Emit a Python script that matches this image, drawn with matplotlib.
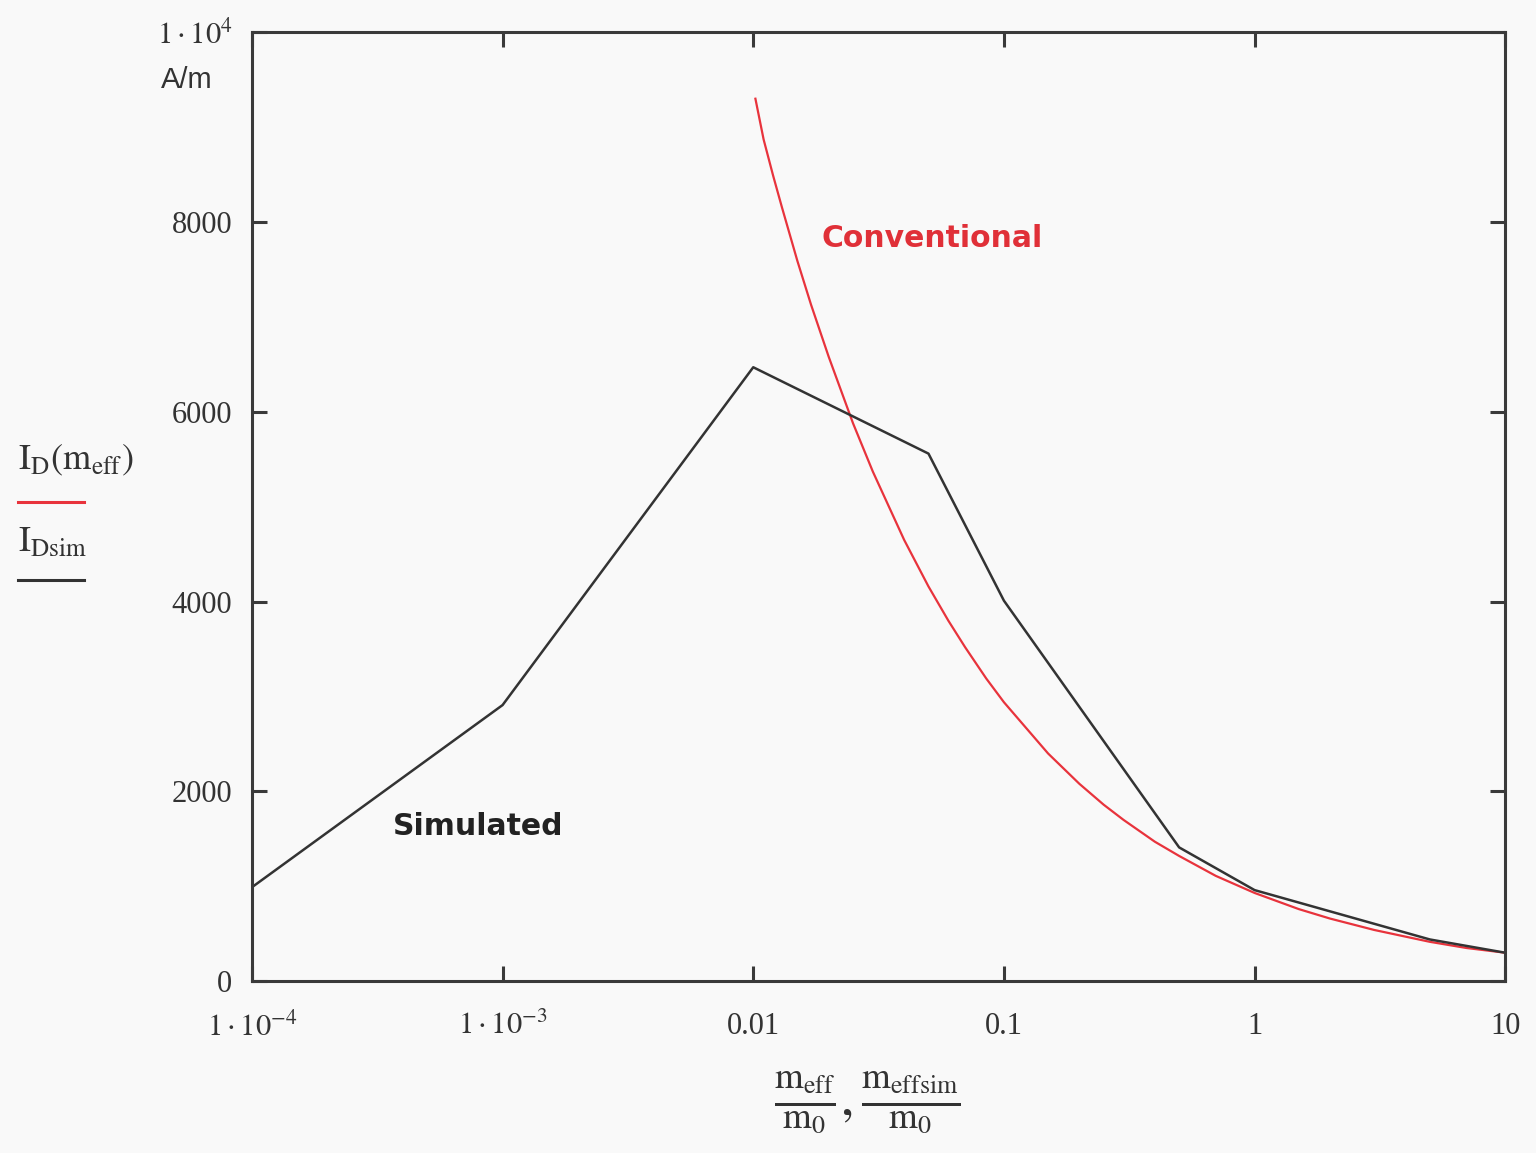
import matplotlib
matplotlib.use("Agg")
import matplotlib.pyplot as plt
from matplotlib.lines import Line2D
from matplotlib.ticker import FixedLocator, FixedFormatter
import matplotlib.transforms as mtransforms

plt.rcParams['font.family'] = ['Liberation Serif', 'DejaVu Serif']
plt.rcParams['mathtext.fontset'] = 'stix'

# effective mass ratio vs drain current, conventional model
m_conv = [0.0102, 0.011, 0.012, 0.013, 0.015, 0.017, 0.02, 0.025, 0.03,
          0.04, 0.05, 0.06, 0.07, 0.085, 0.1, 0.15, 0.2, 0.25, 0.3, 0.4,
          0.5, 0.7, 1.0, 1.5, 2.0, 3.0, 5.0, 7.0, 10.0]
I_conv = [9300, 8870, 8490, 8160, 7590, 7130, 6580, 5880, 5370,
          4650, 4160, 3800, 3520, 3190, 2940, 2400, 2080, 1860, 1700, 1470,
          1320, 1110, 930, 760, 660, 540, 415, 350, 300]

# simulated points
m_sim = [1e-4, 1e-3, 0.01, 0.05, 0.1, 0.5, 1.0, 5.0, 10.0]
I_sim = [990, 2910, 6470, 5560, 4010, 1410, 960, 440, 300]

x_ticks = [1e-4, 1e-3, 0.01, 0.1, 1, 10]
x_labels = [r'$1\cdot10^{-4}$', r'$1\cdot10^{-3}$', '0.01', '0.1', '1', '10']
y_ticks = [0, 2000, 4000, 6000, 8000, 10000]
y_labels = ['0', '2000', '4000', '6000', '8000', r'$1\cdot10^{4}$']

bg = '#f9f9f9'
fig = plt.figure(figsize=(15.36, 11.53), dpi=100, facecolor=bg)
ax = fig.add_axes([0.164, 0.149, 0.816, 0.823], facecolor=bg)

ax.plot(m_conv, I_conv, color='#e8333c', lw=1.6)
ax.plot(m_sim, I_sim, color='#333333', lw=1.8)

ax.set_xscale('log')
ax.set_xlim(1e-4, 10)
ax.set_ylim(0, 10000)
ax.xaxis.set_major_locator(FixedLocator(x_ticks))
ax.xaxis.set_major_formatter(FixedFormatter(x_labels))
ax.xaxis.set_minor_locator(FixedLocator([]))
ax.yaxis.set_major_locator(FixedLocator(y_ticks))
ax.yaxis.set_major_formatter(FixedFormatter(y_labels))

for s in ax.spines.values():
    s.set_linewidth(2.2)
    s.set_color('#3a3a3a')
ax.tick_params(which='major', direction='in', length=11, width=2.2,
               color='#3a3a3a', top=True, right=True, labelsize=22,
               labelcolor='#333333')
ax.tick_params(axis='x', pad=22)
ax.tick_params(axis='y', pad=14)

# unit under the top y tick label
trans = mtransforms.blended_transform_factory(ax.transAxes, ax.transData)
ax.text(-0.031, 9500, 'A/m', transform=trans, ha='right', va='center',
        fontsize=21, family=['Liberation Sans', 'DejaVu Sans'], color='#333333')

ax.text(0.0187, 7830, 'Conventional', color='#e03038', fontsize=21.5,
        fontweight='bold', family=['DejaVu Sans'], ha='left', va='center')
ax.text(3.65e-4, 1633, 'Simulated', color='#222222', fontsize=21.5,
        fontweight='bold', family=['DejaVu Sans'], ha='left', va='center')

# y-axis legend block
fig.text(0.012, 1 - 460 / 1153, r'$\mathrm{I_D(m_{eff})}$', fontsize=26,
         ha='left', va='center', color='#333333')
fig.add_artist(Line2D([18 / 1536, 84 / 1536], [1 - 502 / 1153] * 2,
                      color='#e8333c', lw=2.2))
fig.text(0.012, 1 - 543 / 1153, r'$\mathrm{I_{Dsim}}$', fontsize=26,
         ha='left', va='center', color='#333333')
fig.add_artist(Line2D([18 / 1536, 84 / 1536], [1 - 580 / 1153] * 2,
                      color='#333333', lw=2.2))

# x-axis label
fig.text(867 / 1536, 1 - 1102 / 1153,
         r'$\mathrm{\frac{m_{eff}}{m_0},\frac{m_{effsim}}{m_0}}$',
         fontsize=38, ha='center', va='center', color='#333333')

fig.savefig('out.png', dpi=100, facecolor=bg)
